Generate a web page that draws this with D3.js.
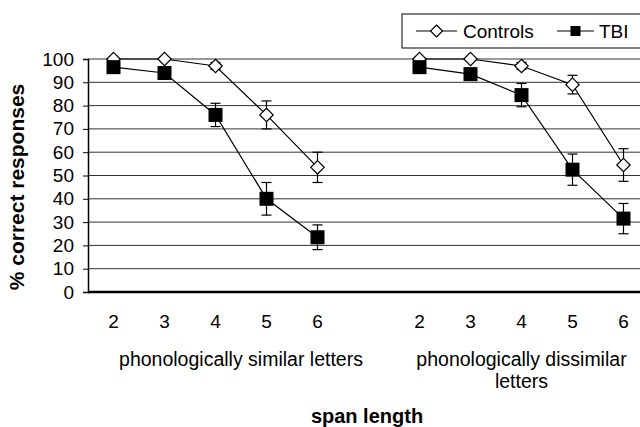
<!DOCTYPE html>
<html>
<head>
<meta charset="utf-8">
<script src="https://cdn.jsdelivr.net/npm/d3@7"></script>
<style>
  body { margin: 0; background: white; }
  svg { display: block; font-family: "Liberation Sans", Arial, sans-serif; }
</style>
</head>
<body>
<svg id="chart" width="640" height="427"></svg>
<script>
// span lengths, same for both letter conditions
var spans = [2, 3, 4, 5, 6];
var groups = ['similar', 'dissimilar'];
var groupLabels = [['phonologically similar letters'], ['phonologically dissimilar', 'letters']];
var yTicks = [0, 10, 20, 30, 40, 50, 60, 70, 80, 90, 100];

// % correct
var controlsSimilar    = [100, 100, 97, 76, 53.5];
var controlsSimilarErr = [0, 0, 1.5, 6, 6.5];
var tbiSimilar         = [96.5, 94, 76, 40, 23.5];
var tbiSimilarErr      = [1.5, 2.5, 5, 7, 5.3];
var controlsDissim     = [100, 100, 97, 89, 54.5];
var controlsDissimErr  = [0, 0, 1.5, 4, 7];
var tbiDissim          = [96.5, 93.5, 84.5, 52.5, 31.5];
var tbiDissimErr       = [1.5, 2.5, 5, 6.7, 6.5];

var series = [
   { name: 'Controls', marker: 'diamond', data: [controlsSimilar, controlsDissim], err: [controlsSimilarErr, controlsDissimErr] },
   { name: 'TBI', marker: 'square', data: [tbiSimilar, tbiDissim], err: [tbiSimilarErr, tbiDissimErr] }
];

var svg = d3.select('#chart');
// note: "top" is taken by window.top, so plotTop
var plotLeft = 88, plotTop = 59, plotBottom = 292, step = 51;

// 11 slots: 5 spans, an empty gap (belongs to the first group), 5 spans
var slots = [];
spans.forEach(function(s) { slots.push('similar-' + s); });
slots.push('similar-gap');
spans.forEach(function(s) { slots.push('dissimilar-' + s); });

var x = d3.scaleBand().domain(slots).range([plotLeft, plotLeft + step * slots.length]).padding(0);
var y = d3.scaleLinear().domain([0, 100]).range([plotBottom, plotTop]);
function cx(g, s) { return x(g + '-' + s) + x.bandwidth() / 2; }
function groupCenter(g) {
   var keys = slots.filter(function(k) { return k.indexOf(g + '-') == 0; });
   return (x(keys[0]) + x(keys[keys.length - 1]) + x.bandwidth()) / 2;
}

// gridlines
svg.append('g').selectAll('line')
   .data(yTicks.filter(function(d) { return d > 0; }))
   .enter().append('line')
   .attr('x1', plotLeft).attr('x2', 640)
   .attr('y1', function(d) { return y(d); }).attr('y2', function(d) { return y(d); })
   .attr('stroke', '#333').attr('stroke-width', 1);

// y axis
var yAxis = svg.append('g')
   .attr('transform', 'translate(' + plotLeft + ',0)')
   .call(d3.axisLeft(y).tickValues(yTicks).tickSize(5).tickPadding(9));
yAxis.select('.domain').attr('stroke', '#000').attr('stroke-width', 1.5);
yAxis.selectAll('.tick line').attr('stroke', '#000');
yAxis.selectAll('text').attr('font-size', 19).attr('fill', '#000').attr('font-family', null);

// baseline
svg.append('line')
   .attr('x1', plotLeft).attr('x2', 640)
   .attr('y1', y(0)).attr('y2', y(0))
   .attr('stroke', '#000').attr('stroke-width', 2.5);

// x tick labels
groups.forEach(function(g) {
   svg.append('g').selectAll('text')
      .data(spans)
      .enter().append('text')
      .attr('x', function(d) { return cx(g, d); })
      .attr('y', 328)
      .attr('text-anchor', 'middle')
      .attr('font-size', 19)
      .text(function(d) { return d; });
});

// group labels
groups.forEach(function(g, gi) {
   var mid = groupCenter(g);
   svg.append('g').selectAll('text')
      .data(groupLabels[gi])
      .enter().append('text')
      .attr('x', mid)
      .attr('y', function(d, i) { return 366 + i * 22; })
      .attr('text-anchor', 'middle')
      .attr('font-size', 19.5)
      .text(function(d) { return d; });
});

svg.append('text')
   .attr('x', 367).attr('y', 423)
   .attr('text-anchor', 'middle')
   .attr('font-size', 20).attr('font-weight', 'bold')
   .text('span length');

svg.append('text')
   .attr('transform', 'translate(24,187) rotate(-90)')
   .attr('text-anchor', 'middle')
   .attr('font-size', 21).attr('font-weight', 'bold')
   .text('% correct responses');

function drawMarker(sel, type, size) {
   if (type == 'diamond') {
      sel.append('path')
         .attr('d', 'M0,' + (-size) + 'L' + size + ',0L0,' + size + 'L' + (-size) + ',0Z')
         .attr('fill', 'white').attr('stroke', '#000').attr('stroke-width', 1.2);
   } else {
      sel.append('rect')
         .attr('x', -size).attr('y', -size)
         .attr('width', size * 2).attr('height', size * 2)
         .attr('fill', '#000');
   }
}

var line = d3.line()
   .x(function(d) { return d.x; })
   .y(function(d) { return y(d.v); });

series.forEach(function(s) {
   groups.forEach(function(g, gi) {
      var pts = spans.map(function(sp, i) {
         return { x: cx(g, sp), v: s.data[gi][i], e: s.err[gi][i] };
      });

      svg.append('path')
         .datum(pts)
         .attr('d', line)
         .attr('fill', 'none')
         .attr('stroke', '#000')
         .attr('stroke-width', 1.2);

      var eb = svg.append('g').selectAll('g')
         .data(pts.filter(function(d) { return d.e > 0; }))
         .enter().append('g');
      eb.append('line')
         .attr('x1', function(d) { return d.x; }).attr('x2', function(d) { return d.x; })
         .attr('y1', function(d) { return y(d.v + d.e); }).attr('y2', function(d) { return y(d.v - d.e); })
         .attr('stroke', '#000').attr('stroke-width', 1.2);
      [1, -1].forEach(function(sign) {
         eb.append('line')
            .attr('x1', function(d) { return d.x - 5; }).attr('x2', function(d) { return d.x + 5; })
            .attr('y1', function(d) { return y(d.v + sign * d.e); }).attr('y2', function(d) { return y(d.v + sign * d.e); })
            .attr('stroke', '#000').attr('stroke-width', 1.2);
      });
   });
});

// markers on top, controls first so TBI squares cover them like the original
series.forEach(function(s) {
   groups.forEach(function(g, gi) {
      svg.append('g').selectAll('g')
         .data(spans.map(function(sp, i) { return { x: cx(g, sp), v: s.data[gi][i] }; }))
         .enter().append('g')
         .attr('transform', function(d) { return 'translate(' + d.x + ',' + y(d.v) + ')'; })
         .each(function() { drawMarker(d3.select(this), s.marker, s.marker == 'diamond' ? 6.7 : 7); });
   });
});

// legend
var legend = svg.append('g');
legend.append('rect')
   .attr('x', 402).attr('y', 14).attr('width', 260).attr('height', 34)
   .attr('fill', 'white').attr('stroke', '#000').attr('stroke-width', 1);
var legendItems = [
   { name: 'Controls', marker: 'diamond', x1: 416, x2: 457, tx: 463 },
   { name: 'TBI', marker: 'square', x1: 557, x2: 594, tx: 599 }
];
legendItems.forEach(function(d) {
   legend.append('line')
      .attr('x1', d.x1).attr('x2', d.x2).attr('y1', 31).attr('y2', 31)
      .attr('stroke', '#000').attr('stroke-width', 1.2);
   var m = legend.append('g').attr('transform', 'translate(' + ((d.x1 + d.x2) / 2) + ',31)');
   drawMarker(m, d.marker, d.marker == 'diamond' ? 6 : 5);
   legend.append('text')
      .attr('x', d.tx).attr('y', 37.5)
      .attr('font-size', 19)
      .text(d.name);
});
</script>
</body>
</html>
